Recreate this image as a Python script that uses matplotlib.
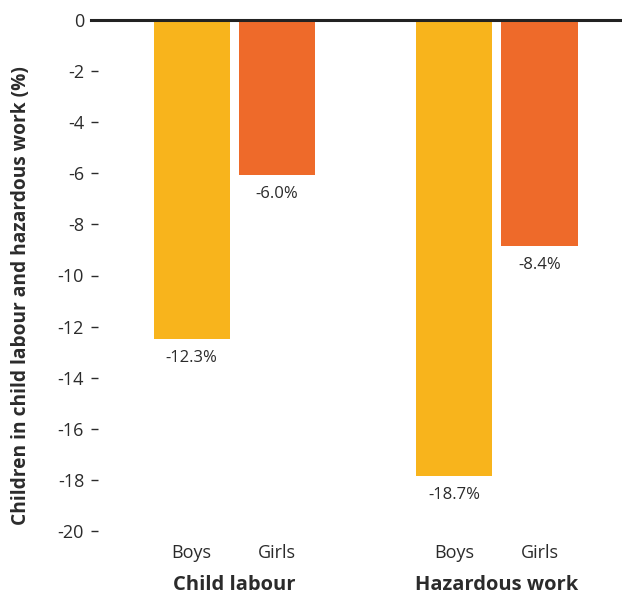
import numpy as np
import matplotlib.pyplot as plt

plt.rcParams['font.family'] = ['Open Sans', 'DejaVu Sans']

groups = ['Child labour', 'Hazardous work']
sexes = ['Boys', 'Girls']
bar_values = [-12.5, -6.07, -17.85, -8.85]
bar_labels = ['-12.3%', '-6.0%', '-18.7%', '-8.4%']
positions = [0, 1, 3.09, 4.09]
yticks = list(range(0, -21, -2))

text_col = '#2b2b2b'
colors = ['#F8B41C', '#EE6A2A', '#F8B41C', '#EE6A2A']

W, H = 622, 594
fig = plt.figure(figsize=(W / 100, H / 100), dpi=100)
left, right, top, bottom = 98, 622, 20, 531
ax = fig.add_axes([left / W, 1 - bottom / H, (right - left) / W, (bottom - top) / H])

ax.bar(positions, bar_values, width=0.895, color=colors, zorder=2)

for x, v, lab in zip(positions, bar_values, bar_labels):
    ax.annotate(lab, (x, v), xytext=(0, -8), textcoords='offset points',
                ha='center', va='top', fontsize=12, color=text_col)

ax.set_xlim(-1.1, 5.06)
ax.set_ylim(-20, 0)
ax.axhline(0, xmin=-0.0134, xmax=1, color='#222222', linewidth=2.2,
           clip_on=False, zorder=3)

for s in ax.spines.values():
    s.set_visible(False)

ax.set_yticks(yticks)
ax.set_yticklabels([str(t) if t == 0 else '-' + str(-t) for t in yticks])
ax.tick_params(axis='y', length=5, width=1, color=text_col, pad=5,
               labelsize=13, labelcolor=text_col)

ax.set_xticks(positions)
ax.set_xticklabels(sexes * 2)
ax.tick_params(axis='x', length=0, pad=9, labelsize=13, labelcolor=text_col)

ax.set_ylabel('Children in child labour and hazardous work (%)',
              fontsize=13.8, fontweight='bold', color=text_col)
ax.yaxis.set_label_coords((31 - left) / (right - left), 0.46)

for i, g in enumerate(groups):
    xc = (positions[2 * i] + positions[2 * i + 1]) / 2
    ax.annotate(g, (xc, 0), xycoords=('data', 'figure fraction'),
                xytext=(xc, 1 - 585 / H), textcoords=('data', 'figure fraction'),
                ha='center', va='center', fontsize=14.5, fontweight='bold',
                color=text_col)

fig.savefig('out.png', dpi=100)
